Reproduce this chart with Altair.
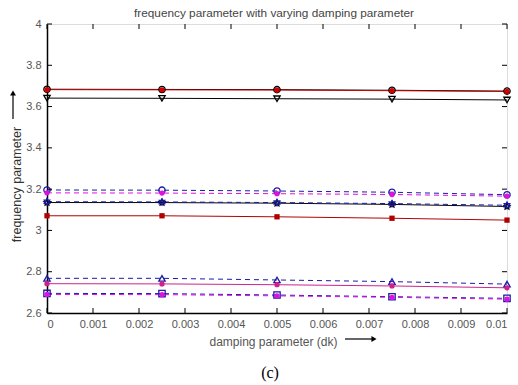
import altair as alt
import pandas as pd

# ---- data ----
x_vals = [0, 0.0025, 0.005, 0.0075, 0.01]

s_black_circ = [3.684, 3.683, 3.682, 3.679, 3.675]
s_red_circ = [3.682, 3.681, 3.680, 3.677, 3.673]
s_black_tri = [3.641, 3.640, 3.638, 3.636, 3.632]
s_blue_circ = [3.196, 3.195, 3.191, 3.185, 3.173]
s_mag_circ_hi = [3.182, 3.181, 3.178, 3.174, 3.166]
s_black_star = [3.135, 3.135, 3.132, 3.126, 3.116]
s_blue_hex = [3.139, 3.138, 3.135, 3.130, 3.122]
s_red_sq = [3.071, 3.071, 3.066, 3.059, 3.050]
s_blue_tri = [2.768, 2.768, 2.760, 2.752, 2.740]
s_mag_line = [2.742, 2.741, 2.737, 2.731, 2.722]
s_blue_sq = [2.695, 2.694, 2.687, 2.679, 2.671]
s_mag_circ_lo = [2.690, 2.689, 2.683, 2.676, 2.667]

series_names = ["A", "B", "C", "D", "E", "F", "G", "H", "I", "J", "K", "L"]
series_values = [s_black_circ, s_red_circ, s_black_tri, s_blue_circ, s_mag_circ_hi,
                 s_black_star, s_blue_hex, s_red_sq, s_blue_tri, s_mag_line,
                 s_blue_sq, s_mag_circ_lo]
open_series = ["A", "C", "D", "F", "G", "I", "K"]
filled_series = ["B", "E", "H", "J", "L"]

x_ticks = [0, 0.001, 0.002, 0.003, 0.004, 0.005, 0.006, 0.007, 0.008, 0.009, 0.01]
y_ticks = [2.6, 2.8, 3.0, 3.2, 3.4, 3.6, 3.8, 4.0]

rows = []
for name, vals in zip(series_names, series_values):
    for xv, yv in zip(x_vals, vals):
        rows.append({"series": name, "x": xv, "y": yv})
df = pd.DataFrame(rows)

# ---- styles ----
BLUE = "#1a1aa8"
MAG = "#e010e0"
RED = "#d00000"
colors = ["#000000", RED, "#000000", BLUE, MAG, "#000000", BLUE, "#b00000", BLUE, "#d0208a", BLUE, MAG]
dashes = [[1, 0], [1, 0], [1, 0], [5, 4], [5, 4], [1, 0], [5, 4], [1, 0], [5, 4], [1, 0], [5, 4], [5, 4]]
star = "M0,-1L0.29,-0.4L0.95,-0.31L0.48,0.15L0.59,0.81L0,0.5L-0.59,0.81L-0.48,0.15L-0.95,-0.31L-0.29,-0.4Z"
hexagram = "M0,-1L0.29,-0.5L0.87,-0.5L0.58,0L0.87,0.5L0.29,0.5L0,1L-0.29,0.5L-0.87,0.5L-0.58,0L-0.87,-0.5L-0.29,-0.5Z"
shapes = ["circle", "circle", "triangle-down", "circle", "circle", star, hexagram,
          "square", "triangle-up", "circle", "square", "circle"]

W, H = 460, 289
FONT = "Liberation Sans"

xscale = alt.Scale(domain=[0, 0.01], nice=False, zero=False)
yscale = alt.Scale(domain=[2.6, 4.0], nice=False, zero=False)
color_enc = alt.Color("series:N", scale=alt.Scale(domain=series_names, range=colors), legend=None)

xaxis = alt.Axis(values=x_ticks, format=".3~f", grid=False, tickSize=0, labelPadding=5,
                 labelFont=FONT, labelFontSize=11, labelColor="#555",
                 domainColor="#000", domainWidth=1.5,
                 title="damping parameter (dk)", titleFont=FONT, titleFontSize=12,
                 titleFontWeight="normal", titleColor="#555", titleX=226, titleY=28,
                 titleAlign="center", titleBaseline="middle")
yaxis = alt.Axis(values=y_ticks, format=".1~f", grid=False, tickSize=0, labelPadding=6,
                 labelFont=FONT, labelFontSize=11, labelColor="#555",
                 domainColor="#000", domainWidth=1.5,
                 title="frequency parameter", titleFont=FONT, titleFontSize=12.5,
                 titleFontWeight="normal", titleColor="#333", titleX=-31, titleY=160,
                 titleAngle=270, titleAlign="center", titleBaseline="middle")

base = alt.Chart(df)

lines = base.mark_line(strokeWidth=1).encode(
    x=alt.X("x:Q", scale=xscale, axis=xaxis),
    y=alt.Y("y:Q", scale=yscale, axis=yaxis),
    color=color_enc,
    strokeDash=alt.StrokeDash("series:N", scale=alt.Scale(domain=series_names, range=dashes), legend=None),
    detail="series:N",
)

shape_enc = alt.Shape("series:N", scale=alt.Scale(domain=series_names, range=shapes), legend=None)

open_pts = base.transform_filter(
    alt.FieldOneOfPredicate(field="series", oneOf=open_series)
).mark_point(filled=False, size=40, strokeWidth=1.3, opacity=1).encode(
    x="x:Q", y="y:Q", color=color_enc, shape=shape_enc)

filled_pts = base.transform_filter(
    alt.FieldOneOfPredicate(field="series", oneOf=filled_series)
).mark_point(filled=True, size=28, opacity=1).encode(
    x="x:Q", y="y:Q", color=color_enc, shape=shape_enc)

xt = alt.Chart(pd.DataFrame({"t": x_ticks}))
yt = alt.Chart(pd.DataFrame({"t": y_ticks}))
tick_b = xt.mark_rule(color="#000", strokeWidth=1).encode(x=alt.X("t:Q", scale=xscale), y=alt.value(H), y2=alt.value(H - 5))
tick_t = xt.mark_rule(color="#000", strokeWidth=1).encode(x=alt.X("t:Q", scale=xscale), y=alt.value(0), y2=alt.value(5))
tick_l = yt.mark_rule(color="#000", strokeWidth=1).encode(y=alt.Y("t:Q", scale=yscale), x=alt.value(0), x2=alt.value(5))
tick_r = yt.mark_rule(color="#000", strokeWidth=1).encode(y=alt.Y("t:Q", scale=yscale), x=alt.value(W), x2=alt.value(W - 5))

# arrows next to axis titles
ann = alt.Chart(pd.DataFrame({"k": [0]}))
x_shaft = ann.mark_rule(color="#000", strokeWidth=1.2).encode(x=alt.value(298), x2=alt.value(325), y=alt.value(315))
x_head = ann.mark_point(shape="triangle-right", filled=True, color="#000", size=35, opacity=1).encode(x=alt.value(327), y=alt.value(315))
y_shaft = ann.mark_rule(color="#000", strokeWidth=1.2).encode(x=alt.value(-34), y=alt.value(95), y2=alt.value(71))
y_head = ann.mark_point(shape="triangle-up", filled=True, color="#000", size=35, opacity=1).encode(x=alt.value(-34), y=alt.value(69))
caption = ann.mark_text(font="Liberation Serif", fontSize=16, color="#000").encode(
    x=alt.value(223), y=alt.value(349), text=alt.value("(c)"))

chart = alt.layer(
    lines, open_pts, filled_pts, tick_b, tick_t, tick_l, tick_r,
    x_shaft, x_head, y_shaft, y_head, caption
).properties(
    width=W, height=H,
    title=alt.Title("frequency parameter with varying damping parameter", font=FONT, fontSize=11.8,
                    fontWeight="normal", color="#444", anchor="middle", offset=6, dx=-3, dy=8),
    autosize=alt.AutoSizeParams(type="none"),
    padding={"left": 47, "top": 24, "right": 11, "bottom": 72},
).configure_view(stroke="#000", strokeWidth=1.2).configure(background="white")

chart.save("out.html", embed_options={"renderer": "svg", "actions": False})
